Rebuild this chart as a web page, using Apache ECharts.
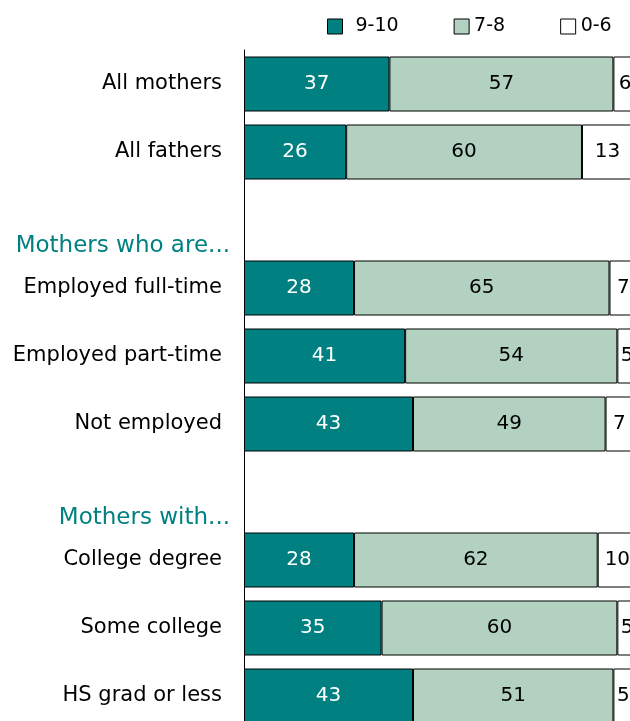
<!DOCTYPE html>
<html>
<head>
<meta charset="utf-8">
<script src="https://cdn.jsdelivr.net/npm/echarts@6/dist/echarts.min.js"></script>
<style>
html,body{margin:0;padding:0;background:#fff;overflow:hidden;}
#chart{width:640px;height:732px;}
</style>
</head>
<body>
<div id="chart"></div>
<script>
const categories = ['All mothers','All fathers','Mothers who are...','Employed full-time','Employed part-time','Not employed','Mothers with...','College degree','Some college','HS grad or less'];
const headerRows = ['Mothers who are...','Mothers with...'];
const seriesNames = ['9-10','7-8','0-6'];
const score9to10 = [37,26,null,28,41,43,null,28,35,43];
const score7to8  = [57,60,null,65,54,49,null,62,60,51];
const score0to6  = [6,13,null,7,5,7,null,10,5,5];

const FONT = 'DejaVu Sans';
const chart = echarts.init(document.getElementById('chart'), null, {renderer:'canvas'});

function barSeries(name, data, color, labelColor){
  return {
    name: name, type: 'bar', stack: 'total', data: data, barWidth: 55,
    itemStyle: {color: color, borderColor: '#000', borderWidth: 1},
    label: {show: true, position: 'inside', color: labelColor, fontFamily: FONT, fontSize: 20,
      formatter: p => (p.value == null ? '' : String(p.value))},
    emphasis: {disabled: true}, animation: false
  };
}

chart.setOption({
  animation: false,
  backgroundColor: '#fff',
  legend: {
    left: 322, top: 12, itemWidth: 15, itemHeight: 15, itemGap: 55,
    icon: 'rect',
    itemStyle: {borderColor: '#000', borderWidth: 1},
    textStyle: {fontFamily: FONT, fontSize: 19, color: '#000'},
    data: [
      {name: seriesNames[0], textStyle: {padding: [0,0,0,8]}},
      {name: seriesNames[1], textStyle: {padding: [0,3,0,0]}},
      {name: seriesNames[2]}
    ]
  },
  grid: {left: 244, top: 50, width: 393, height: 680, containLabel: false},
  xAxis: {type: 'value', min: 0, max: 100, show: false},
  yAxis: {
    type: 'category', inverse: true, data: categories,
    axisLine: {show: true, lineStyle: {color: '#000', width: 1}},
    axisTick: {show: false},
    axisLabel: {
      margin: 14, lineHeight: 53, fontFamily: FONT, fontSize: 21, color: '#000',
      formatter: v => headerRows.includes(v) ? '\n{hdr|' + v + '}' : '{n|' + v + '}',
      rich: {
        hdr: {fontFamily: FONT, fontSize: 23, color: '#008080', lineHeight: 53},
        n: {fontFamily: FONT, fontSize: 21, color: '#000', lineHeight: 53, padding: [0,8,0,0]}
      }
    }
  },
  series: [
    barSeries(seriesNames[0], score9to10, '#008080', '#fff'),
    barSeries(seriesNames[1], score7to8, '#b3d1c0', '#000'),
    barSeries(seriesNames[2], score0to6, '#ffffff', '#000')
  ]
});
</script>
</body>
</html>
